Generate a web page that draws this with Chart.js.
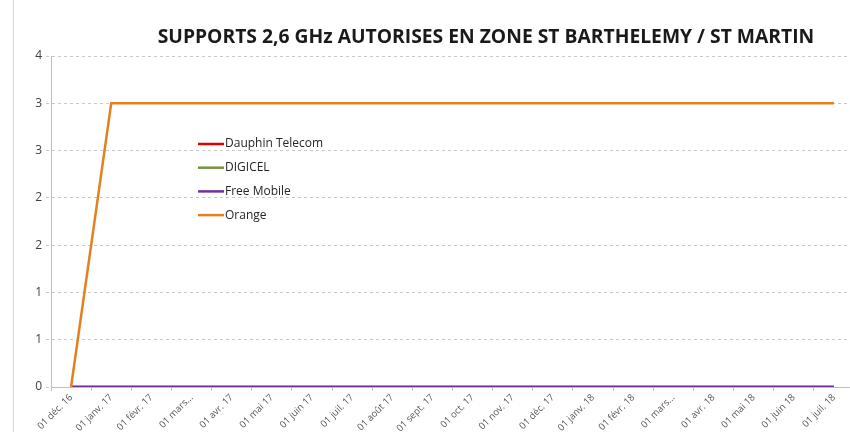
<!DOCTYPE html>
<html>
<head>
<meta charset="utf-8">
<script src="https://cdn.jsdelivr.net/npm/chart.js@4/dist/chart.umd.min.js"></script>
<style>
  html, body { margin: 0; padding: 0; background: #fff; overflow: hidden; }
  #wrap { position: relative; width: 856px; height: 432px; }
  #frame { position: absolute; left: 13px; top: 0; width: 1px; height: 432px; background: #d9d9d9; }
</style>
</head>
<body>
<div id="wrap">
  <div id="frame"></div>
  <canvas id="chart" width="856" height="432"></canvas>
</div>
<script>
// Data
const months = ['01 déc. 16', '01 janv. 17', '01 févr. 17', '01 mars…', '01 avr. 17', '01 mai 17',
  '01 juin 17', '01 juil. 17', '01 août 17', '01 sept. 17', '01 oct. 17', '01 nov. 17',
  '01 déc. 17', '01 janv. 18', '01 févr. 18', '01 mars…', '01 avr. 18', '01 mai 18',
  '01 juin 18', '01 juil. 18'];
const dauphin = [0, 0, 0, 0, 0, 0, 0, 0, 0, 0, 0, 0, 0, 0, 0, 0, 0, 0, 0, 0];
const digicel = [0, 0, 0, 0, 0, 0, 0, 0, 0, 0, 0, 0, 0, 0, 0, 0, 0, 0, 0, 0];
const freeMobile = [0, 0, 0, 0, 0, 0, 0, 0, 0, 0, 0, 0, 0, 0, 0, 0, 0, 0, 0, 0];
const orange = [0, 3, 3, 3, 3, 3, 3, 3, 3, 3, 3, 3, 3, 3, 3, 3, 3, 3, 3, 3];

const title = 'SUPPORTS 2,6 GHz AUTORISES EN ZONE ST BARTHELEMY / ST MARTIN';

// Title drawn above the plot, offset like the original
const titlePlugin = {
  id: 'titleText',
  afterDraw(chart) {
    const ctx = chart.ctx;
    ctx.save();
    ctx.font = 'bold 19.3px "Open Sans"';
    ctx.fillStyle = '#1a1a1a';
    ctx.textAlign = 'center';
    ctx.textBaseline = 'middle';
    ctx.fillText(title, 486, 38);
    ctx.restore();
  }
};

// Legend drawn inside the plot area
const legendPlugin = {
  id: 'innerLegend',
  afterDraw(chart) {
    const ctx = chart.ctx;
    ctx.save();
    ctx.font = '12px "Open Sans"';
    ctx.textBaseline = 'middle';
    chart.data.datasets.forEach((ds, i) => {
      const y = 144 + i * 23.7;
      ctx.strokeStyle = ds.borderColor;
      ctx.lineWidth = 2.5;
      ctx.beginPath();
      ctx.moveTo(198, y);
      ctx.lineTo(224, y);
      ctx.stroke();
      ctx.fillStyle = '#262626';
      ctx.fillText(ds.label, 225, y);
    });
    ctx.restore();
  }
};

// later series sit on top, like the original
const mkSet = (label, data, color, order) => ({
  label, data, order, borderColor: color, backgroundColor: color,
  borderWidth: 2.5, pointRadius: 0, tension: 0, fill: false
});

new Chart(document.getElementById('chart'), {
  type: 'line',
  data: {
    labels: months,
    datasets: [
      mkSet('Dauphin Telecom', dauphin, '#e00000', 3),
      mkSet('DIGICEL', digicel, '#77933c', 2),
      mkSet('Free Mobile', freeMobile, '#7030a0', 1),
      mkSet('Orange', orange, '#e4801f', 0)
    ]
  },
  options: {
    responsive: false,
    animation: false,
    layout: { padding: { top: 56, right: 2, left: 0, bottom: 0 } },
    plugins: {
      legend: { display: false },
      tooltip: { enabled: false }
    },
    scales: {
      x: {
        offset: true,
        grid: { offset: true, drawOnChartArea: false, tickLength: 4, color: '#bfbfbf' },
        border: { color: '#bfbfbf' },
        ticks: {
          color: '#595959', font: { family: 'Open Sans', size: 9.5 },
          minRotation: 45, maxRotation: 45, autoSkip: false, padding: 1
        },
        afterFit: s => { s.height = 45; }
      },
      y: {
        min: 0, max: 3.5,
        grid: { color: '#c8c8c8', tickLength: 5, tickBorderDash: [3, 3], tickColor: '#c8c8c8' },
        border: { color: '#bfbfbf', dash: [3, 3] },
        ticks: {
          stepSize: 0.5, color: '#404040', padding: 4,
          font: { family: 'Open Sans', size: 12 },
          callback: v => Math.round(v)
        },
        afterFit: s => { s.width = 51; }
      }
    }
  },
  plugins: [titlePlugin, legendPlugin]
});
</script>
</body>
</html>
